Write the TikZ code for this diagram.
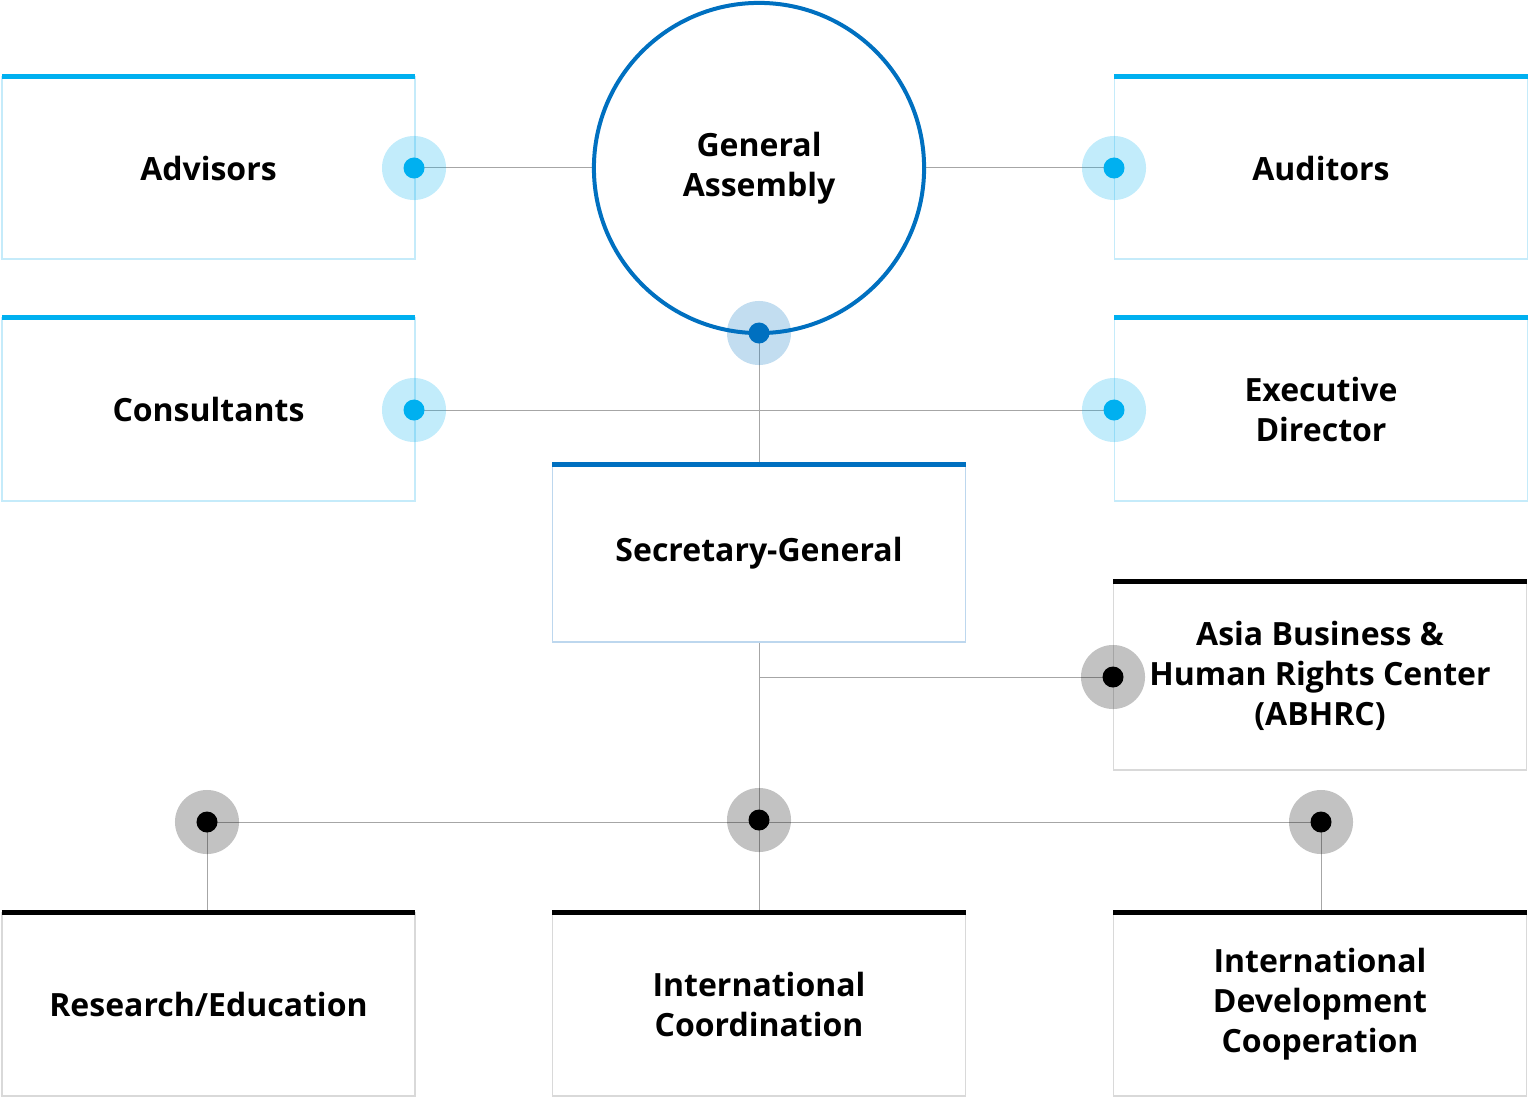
\documentclass[tikz,border=0pt]{standalone}
\usepackage{fontspec}
\setmainfont{Open Sans}
\usetikzlibrary{calc}
\pgfdeclarelayer{background}
\pgfsetlayers{background,main}

\definecolor{skyblue}{HTML}{00B0F0}
\definecolor{skyedge}{HTML}{C5EBFA}
\definecolor{deepblue}{HTML}{0070C0}
\definecolor{deepedge}{HTML}{BDD7EE}
\definecolor{greyedge}{HTML}{D9D9D9}
\definecolor{linkgrey}{HTML}{A6A6A6}

\begin{document}
\begin{tikzpicture}[x=0.01cm, y=-0.01cm,
    every node/.style={font=\fontsize{9.1}{11.4}\selectfont\bfseries, align=center},
    orgbox/.style={draw=#1, line width=0.015cm, minimum width=4.13cm, minimum height=1.82cm,
        inner sep=0pt, outer sep=0pt},
    topbar/.style={line width=0.05cm, #1},
    link/.style={linkgrey, line width=0.01cm},
    hub/.style 2 args={circle, minimum size=0.64cm, inner sep=0pt, fill=#1, fill opacity=0.24,
        path picture={\fill[#2, fill opacity=1] (path picture bounding box.center) circle (0.105cm);}},
]
\useasboundingbox (0,0) rectangle (1531,1097);

% --- top: general assembly and side boards ---
\node[circle, draw=deepblue, line width=0.04cm, minimum size=3.30cm, inner sep=0pt] (ga) at (759,168) {General\\Assembly};

\node[orgbox=skyedge] (adv) at (208.5,168) {Advisors};
\node[orgbox=skyedge] (aud) at (1321,168) {Auditors};
\node[orgbox=skyedge, minimum height=1.83cm] (cons) at (208.5,409.5) {Consultants};
\node[orgbox=skyedge, minimum height=1.83cm] (exec) at (1321,409.5) {Executive\\Director};

\draw[topbar=skyblue] (adv.north west) -- (adv.north east);
\draw[topbar=skyblue] (aud.north west) -- (aud.north east);
\draw[topbar=skyblue] (cons.north west) -- (cons.north east);
\draw[topbar=skyblue] (exec.north west) -- (exec.north east);

% --- middle: secretariat ---
\node[orgbox=deepedge, minimum height=1.77cm] (sec) at (759,553.5) {Secretary-General};
\draw[topbar=deepblue] (sec.north west) -- (sec.north east);

\node[orgbox=greyedge, minimum height=1.88cm] (abhrc) at (1320,676) {Asia Business \&\\Human Rights Center\\(ABHRC)};
\draw[topbar=black] (abhrc.north west) -- (abhrc.north east);

% --- bottom: departments ---
\node[orgbox=greyedge, minimum height=1.83cm] (res) at (208.5,1004.5) {Research/Education};
\node[orgbox=greyedge, minimum height=1.83cm] (intc) at (759,1004.5) {International\\Coordination};
\node[orgbox=greyedge, minimum height=1.83cm] (idc) at (1320,1004.5) {International\\Development\\Cooperation};
\draw[topbar=black] (res.north west) -- (res.north east);
\draw[topbar=black] (intc.north west) -- (intc.north east);
\draw[topbar=black] (idc.north west) -- (idc.north east);

% --- hubs ---
\node[hub={skyblue}{skyblue}] (advdot) at (414,168) {};
\node[hub={skyblue}{skyblue}] (auddot) at (1114,168) {};
\node[hub={skyblue}{skyblue}] (consdot) at (414,410) {};
\node[hub={skyblue}{skyblue}] (execdot) at (1114,410) {};
\node[hub={deepblue}{deepblue}] (gadot) at (759,333) {};
\node[hub={black}{black}] (abdot) at (1113,677) {};
\node[hub={black}{black}] (resdot) at (207,822) {};
\node[hub={black}{black}] (intdot) at (759,820) {};
\node[hub={black}{black}] (idcdot) at (1321,822) {};
\coordinate (split) at (759,677);

% --- connectors ---
\begin{pgfonlayer}{background}
    \draw[link] (advdot.center) -- (ga.west |- advdot);
    \draw[link] (ga.east |- auddot) -- (auddot.center);
    \draw[link] (consdot.center) -- (execdot.center);
    \draw[link] (gadot.center) -- (sec.north);
    \draw[link] (sec.south) -- (intdot.center);
    \draw[link] (split) -- (abdot.center);
    \draw[link] (resdot.center) -- (idcdot.center);
    \draw[link] (resdot.center) -- (res.north -| resdot);
    \draw[link] (intdot.center) -- (intc.north);
    \draw[link] (idcdot.center) -- (idc.north -| idcdot);
\end{pgfonlayer}

\end{tikzpicture}
\end{document}
